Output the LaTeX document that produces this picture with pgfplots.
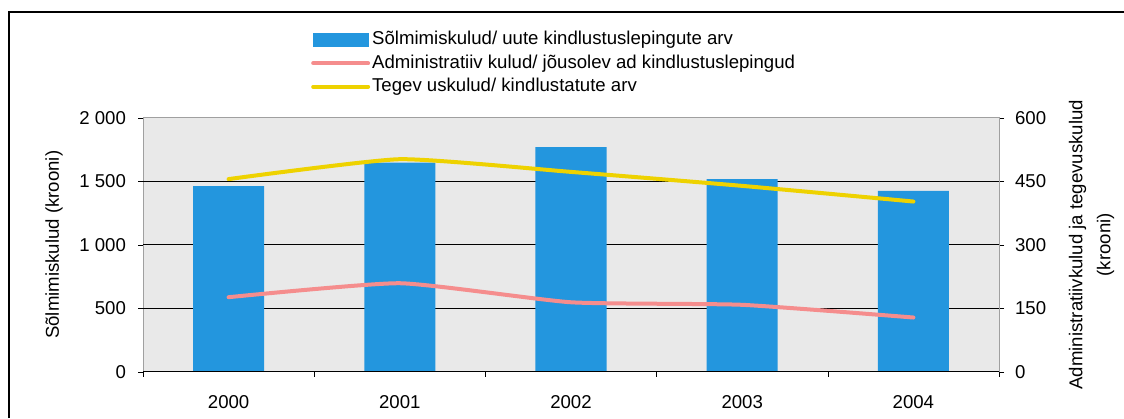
\documentclass[border=0pt]{standalone}
\usepackage{fontspec}
\setmainfont{Liberation Sans}
\usepackage{pgfplots}
\pgfplotsset{compat=1.18}
\definecolor{barblue}{HTML}{2396DE}
\definecolor{linered}{HTML}{F58D8D}
\definecolor{lineyel}{HTML}{EED200}
\definecolor{bggray}{HTML}{E9E9E9}
\definecolor{bordergray}{HTML}{A0A0A0}
\newcommand{\cf}{\fontsize{9.3}{11}\selectfont}
\begin{document}
\begin{tikzpicture}[x=1pt,y=1pt]
\path[use as bounding box] (0,0) rectangle (562,209);
\draw[line width=0.8pt] (4.5,0) -- (4.5,203) -- (562,203);
\begin{axis}[
  at={(71.5pt,23.15pt)}, anchor=south west,
  width=428pt, height=127pt, scale only axis,
  xmin=-0.5, xmax=4.5, ymin=0, ymax=2000,
  axis background/.style={fill=bggray},
  axis line style={draw=bordergray},
  xtick={0,1,2,3,4}, xticklabels={2000,2001,2002,2003,2004},
  minor xtick={-0.5,0.5,1.5,2.5,3.5,4.5},
  major x tick style={draw=none},
  minor x tick style={draw=black},
  xtick pos=bottom, ytick pos=left,
  tick align=outside, major tick length=2.5pt, minor tick length=2.5pt,
  ytick={0,500,1000,1500,2000},
  yticklabels={0,500,1 000,1 500,2 000},
  ytick style={draw=black},
  extra y ticks={500,1000,1500}, extra y tick labels={},
  extra y tick style={grid=major, major tick length=0pt},
  grid style={black, line width=0.5pt},
  tick label style={font=\cf},
  xticklabel style={yshift=-6pt},
  yticklabel style={xshift=-2.5pt},
  every axis y label/.style={at={(axis description cs:-0.104,0.5)}, anchor=center, rotate=90, font=\cf},
  ylabel={Sõlmimiskulud (krooni)},
]
\addplot[ybar, bar width=0.415, fill=barblue, draw=none] coordinates {(0,1462) (1,1646) (2,1769) (3,1517) (4,1423)};
\draw[black, line width=0.6pt] (rel axis cs:0,0) -- (rel axis cs:1,0);
\end{axis}
\begin{axis}[
  at={(71.5pt,23.15pt)}, anchor=south west,
  width=428pt, height=127pt, scale only axis,
  xmin=-0.5, xmax=4.5, ymin=0, ymax=600,
  axis y line*=right, axis x line=none,
  axis line style={draw=bordergray},
  ytick={0,150,300,450,600},
  yticklabels={0,150,300,450,600},
  ytick style={draw=black},
  tick align=outside, major tick length=2.5pt,
  tick label style={font=\cf},
  yticklabel style={xshift=2pt},
  every axis y label/.style={at={(axis description cs:1.108,0.5)}, anchor=center, rotate=90, align=center, font=\cf},
  ylabel={Administratiivkulud ja tegevuskulud\\[3pt](krooni)},
  legend image code/.code={\draw[#1] (0pt,0pt) -- (27.5pt,0pt);},
  legend cell align=left,
  legend style={at={(axis description cs:0.196,1.352)}, anchor=north west, draw=none, fill=none, inner sep=0pt, row sep=0.75pt, font=\cf, nodes={inner sep=1pt, text height=7pt, text depth=2pt}},
]
\addlegendimage{legend image code/.code={\fill[barblue] (0pt,-3.3pt) rectangle (27.5pt,3.3pt);}}
\addlegendentry{Sõlmimiskulud/ uute kindlustuslepingute arv}
\addplot[linered, line width=2pt, line cap=round, smooth, tension=0.3] coordinates {(0,176) (1,209) (2,164) (3,158) (4,128)};
\addlegendentry{Administratiiv kulud/ jõusolev ad kindlustuslepingud}
\addplot[lineyel, line width=2pt, line cap=round, smooth, tension=0.3] coordinates {(0,455) (1,502) (2,472) (3,439) (4,402)};
\addlegendentry{Tegev uskulud/ kindlustatute arv}
\end{axis}
\end{tikzpicture}
\end{document}
